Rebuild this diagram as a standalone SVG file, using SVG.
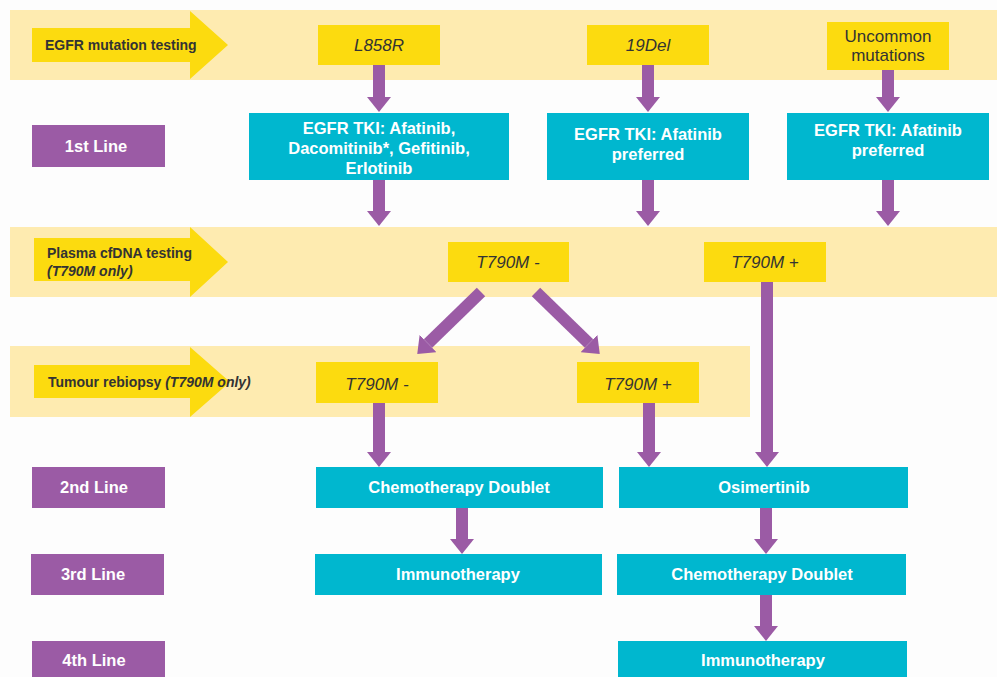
<svg xmlns="http://www.w3.org/2000/svg" width="997" height="677" viewBox="0 0 997 677">
<defs>
<marker id="ah" markerUnits="userSpaceOnUse" markerWidth="15" markerHeight="24" viewBox="0 0 15 24" refX="0" refY="12" orient="auto">
<path d="M0,0 L15,12 L0,24 z" fill="#9B5BA5"/>
</marker>
</defs>
<style>
.band{fill:#FEEBB0}
.barrow{fill:#FCDB0F}
.ybox{fill:#FCDB0F}
.tbox{fill:#00B7CF}
.pbox{fill:#9B5BA5}
.blab{font-family:"Liberation Sans",Arial,sans-serif;font-weight:bold;font-size:14px;fill:#333}
.ytxt{font-family:"Liberation Sans",Arial,sans-serif;font-size:17px;font-style:italic;fill:#333;text-anchor:middle}
.yreg{font-family:"Liberation Sans",Arial,sans-serif;font-size:17px;fill:#333;text-anchor:middle}
.wtxt{font-family:"Liberation Sans",Arial,sans-serif;font-weight:bold;font-size:16.5px;fill:#fff;text-anchor:middle}
.conn{stroke:#9B5BA5;stroke-width:12;fill:none;marker-end:url(#ah)}
</style>
<rect width="997" height="677" fill="#FDFDFD"/>

<g id="band1">
<rect class="band" x="10" y="10" width="987" height="70"/>
<polygon class="barrow" points="32,28 190,28 190,11 228,45 190,79 190,62 32,62"/>
<text class="blab" x="45" y="50">EGFR mutation testing</text>
</g>
<g id="band2">
<rect class="band" x="10" y="227" width="987" height="70"/>
<polygon class="barrow" points="34,238 190,238 190,227 228,262 190,297 190,281 34,281"/>
<text class="blab" x="47" y="258">Plasma cfDNA testing</text>
<text class="blab" x="47" y="276" font-style="italic">(T790M only)</text>
</g>
<g id="band3">
<rect class="band" x="10" y="346" width="740" height="71"/>
<polygon class="barrow" points="34,365 190,365 190,347 230,382 190,417 190,398 34,398"/>
<text class="blab" x="48" y="387">Tumour rebiopsy <tspan font-style="italic">(T790M only)</tspan></text>
</g>

<g id="l858r"><rect class="ybox" x="318" y="25" width="122" height="40"/><text class="ytxt" x="379" y="51">L858R</text></g>
<g id="del19"><rect class="ybox" x="587" y="25" width="122" height="40"/><text class="ytxt" x="648" y="51">19Del</text></g>
<g id="uncommon"><rect class="ybox" x="827" y="22" width="122" height="48"/><text class="yreg" x="888" y="42">Uncommon</text><text class="yreg" x="888" y="61">mutations</text></g>

<g id="line1"><rect class="pbox" x="32" y="125" width="133" height="42"/><text class="wtxt" x="96" y="152">1st Line</text></g>
<g id="tki1"><rect class="tbox" x="249" y="113" width="260" height="67"/><text class="wtxt" x="379" y="134">EGFR TKI: Afatinib,</text><text class="wtxt" x="379" y="154">Dacomitinib*, Gefitinib,</text><text class="wtxt" x="379" y="174">Erlotinib</text></g>
<g id="tki2"><rect class="tbox" x="547" y="113" width="202" height="67"/><text class="wtxt" x="648" y="140">EGFR TKI: Afatinib</text><text class="wtxt" x="648" y="160">preferred</text></g>
<g id="tki3"><rect class="tbox" x="787" y="113" width="202" height="67"/><text class="wtxt" x="888" y="136">EGFR TKI: Afatinib</text><text class="wtxt" x="888" y="156">preferred</text></g>

<g id="plasmaNeg"><rect class="ybox" x="448" y="242" width="121" height="40"/><text class="ytxt" x="508" y="268">T790M -</text></g>
<g id="plasmaPos"><rect class="ybox" x="704" y="242" width="122" height="40"/><text class="ytxt" x="765" y="268">T790M +</text></g>

<g id="rebNeg"><rect class="ybox" x="316" y="362" width="122" height="41"/><text class="ytxt" x="377" y="390">T790M -</text></g>
<g id="rebPos"><rect class="ybox" x="577" y="362" width="122" height="41"/><text class="ytxt" x="638" y="390">T790M +</text></g>

<g id="line2"><rect class="pbox" x="32" y="467" width="133" height="41"/><text class="wtxt" x="94" y="493">2nd Line</text></g>
<g id="line3"><rect class="pbox" x="31" y="554" width="133" height="41"/><text class="wtxt" x="93" y="580">3rd Line</text></g>
<g id="line4"><rect class="pbox" x="32" y="641" width="133" height="41"/><text class="wtxt" x="94" y="666">4th Line</text></g>

<g id="chemo2"><rect class="tbox" x="316" y="467" width="287" height="41"/><text class="wtxt" x="459" y="493">Chemotherapy Doublet</text></g>
<g id="osim"><rect class="tbox" x="619" y="467" width="289" height="41"/><text class="wtxt" x="764" y="493">Osimertinib</text></g>
<g id="immuno3"><rect class="tbox" x="315" y="554" width="287" height="41"/><text class="wtxt" x="458" y="580">Immunotherapy</text></g>
<g id="chemo3"><rect class="tbox" x="617" y="554" width="289" height="41"/><text class="wtxt" x="762" y="580">Chemotherapy Doublet</text></g>
<g id="immuno4"><rect class="tbox" x="618" y="641" width="289" height="41"/><text class="wtxt" x="763" y="666">Immunotherapy</text></g>

<g id="connectors">
<line class="conn" x1="379" y1="65" x2="379" y2="97"/>
<line class="conn" x1="648" y1="65" x2="648" y2="97"/>
<line class="conn" x1="888" y1="70" x2="888" y2="97"/>
<line class="conn" x1="379" y1="180" x2="379" y2="211"/>
<line class="conn" x1="648" y1="180" x2="648" y2="211"/>
<line class="conn" x1="888" y1="180" x2="888" y2="211"/>
<line class="conn" x1="481" y1="292" x2="428" y2="343.5"/>
<line class="conn" x1="536" y1="292" x2="589" y2="343.5"/>
<line class="conn" x1="767" y1="282" x2="767" y2="452"/>
<line class="conn" x1="379" y1="403" x2="379" y2="452"/>
<line class="conn" x1="649" y1="403" x2="649" y2="452"/>
<line class="conn" x1="462" y1="508" x2="462" y2="539"/>
<line class="conn" x1="766" y1="508" x2="766" y2="539"/>
<line class="conn" x1="766" y1="595" x2="766" y2="626"/>
</g>
</svg>
